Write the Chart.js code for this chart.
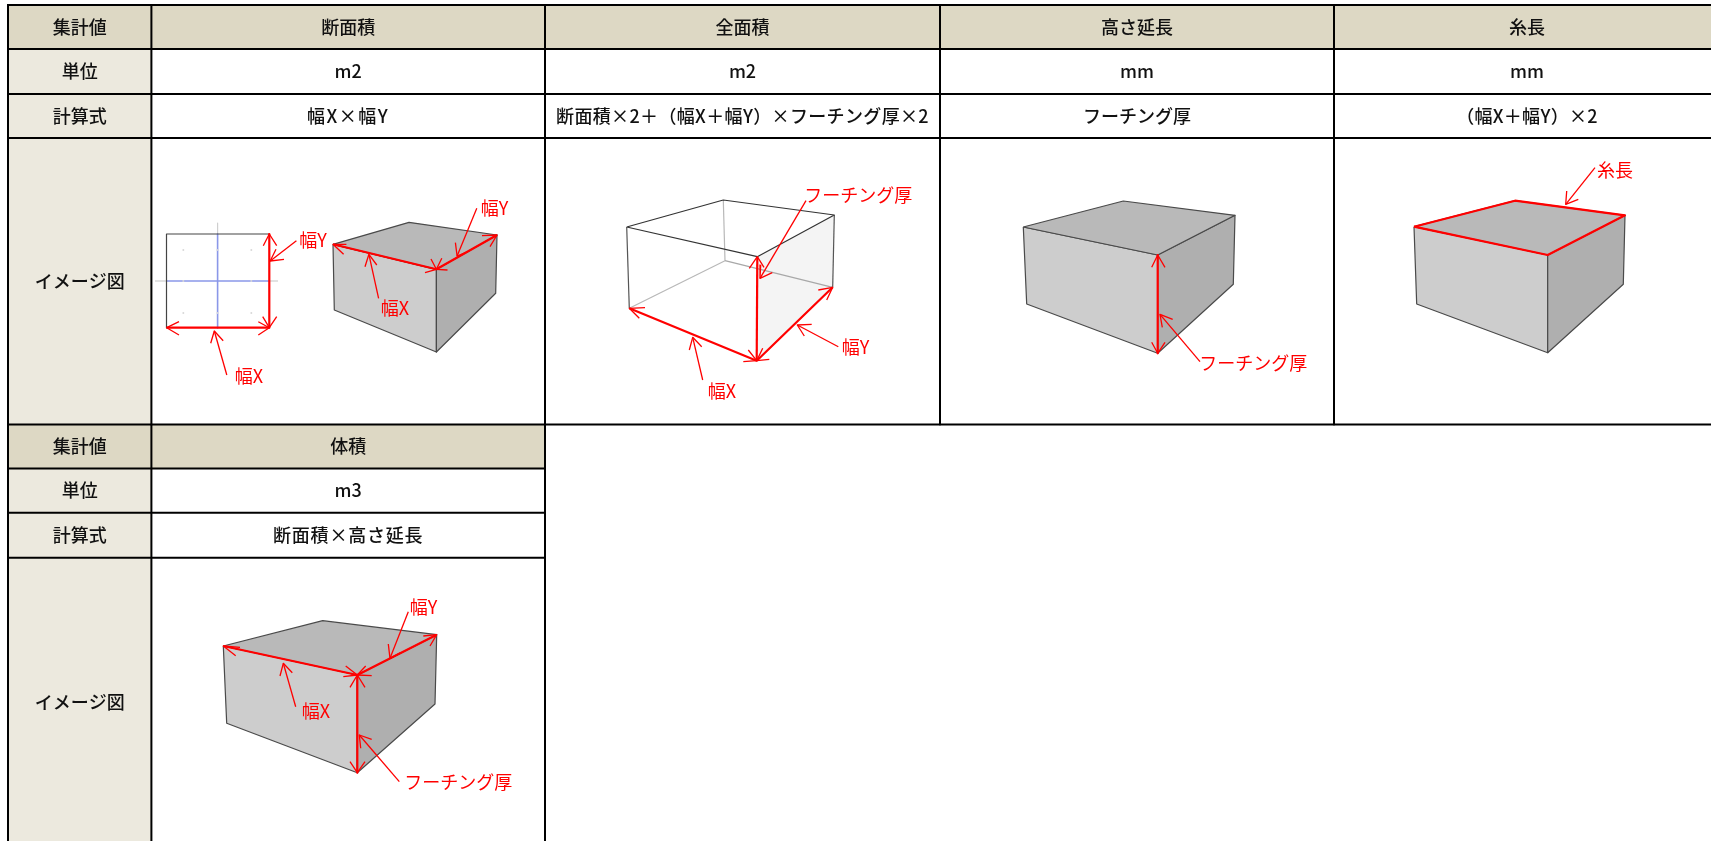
<!DOCTYPE html>
<html lang="ja"><head><meta charset="utf-8">
<style>html,body{margin:0;padding:0;background:#fff}canvas{display:block}</style>
<script src="https://cdn.jsdelivr.net/npm/chart.js@4"></script></head>
<body><canvas id="c" width="1711" height="841"></canvas>
<script>
// ---- table content
const rowLabels = ['集計値','単位','計算式','イメージ図'];
const topTitles = ['断面積','全面積','高さ延長','糸長'];
const topUnits = ['m2','m2','mm','mm'];
const topFormulas = ['幅X×幅Y','断面積×2＋（幅X＋幅Y）×フーチング厚×2','フーチング厚','（幅X＋幅Y）×2'];
const topFormulaSpacing = [1.5,0.35,0,0.3];
const lowerTitles = ['体積'];
const lowerUnits = ['m3'];
const lowerFormulas = ['断面積×高さ延長'];
const lowerFormulaSpacing = [0.8];
// ---- table grid, in axis units
const colLines = [8,151.4,545,940,1334,1720];
const topRowLines = [5,49,94,138,424.6];
const lowerRowLines = [424.6,468.4,512.8,557.8,846];
// ---- plan view (diagram 1)
const planOutline = [[269,234],[166.5,234],[166.5,328]];
const planBlue = [[[217.6,234],[217.6,328]],[[166.5,281],[269,281]]];
const planGray = [[[217.6,223],[217.6,234]],[[155,281],[166.5,281]],[[269,281],[278,281]]];
const planDots = [[183.3,250],[217.3,250],[251.3,250],[183.3,281],[251.3,281],[183.3,313],[217.3,313],[251.3,313]];
// ---- box corners: top-left, top-back, top-right, front-top, front-bottom, left-bottom, right-bottom
const box1 = [[333,244.3],[409,222.3],[497,235],[436.4,269.3],[436.4,352],[334.3,310],[495.7,293.3]];
const box3 = [[1023.3,227],[1123.3,201],[1235,215.3],[1157.7,255],[1157.7,353.3],[1026.7,304],[1233.3,284.3]];
const box4 = [[1414,226.7],[1515,200.7],[1625,215.3],[1547.7,255],[1547.7,352.7],[1416.7,304],[1623.3,284.3]];
const box5 = [[223.3,646],[322.7,620.7],[436.7,634.7],[357.3,675],[357.3,772.7],[226.7,723.3],[435,704]];
const wire = [[626.7,227],[723.3,200],[834.3,215],[757.3,256.7],[756.7,360.7],[629.3,308.3],[832.7,287.3]];
const wireInner = [725,260.7];
// ---- thick red edges
const redEdges = [
 [[269.3,234],[269.3,327.7]],[[166.7,327.7],[269.3,327.7]],
 [[333,244.3],[436.4,269.3],[497,235]],
 [[629.3,308.3],[756.7,360.7],[832.7,287.3]],[[757.3,256.7],[756.7,360.7]],
 [[1157.7,255],[1157.7,353.3]],
 [[1414,226.7],[1515,200.7],[1625,215.3],[1547.7,255],[1414,226.7]],
 [[223.3,646],[357.3,675],[436.7,634.7]],[[357.3,675],[357.3,772.7]]
];
// ---- thin red leaders and arrow heads
const redThin = [
 [[296.4,240.7],[270.2,261]],[[226.8,375],[214.3,331]],[[378.6,298.3],[368.9,254.3]],[[476.8,208.3],[457.1,256]],
 [[806,200.7],[760,278.3]],[[838.3,346.7],[797.3,325]],[[702.7,380],[692.7,337.3]],
 [[1200,361.7],[1160,314.3]],[[1595,167.7],[1565.7,204.3]],
 [[408.3,611.7],[390,658.3]],[[295.7,706.7],[283.3,663.3]],[[399.3,781.7],[359.3,735]]
];
const redHeads = [
 [[263.3,245.7],[269.3,234],[276.7,245.7]],[[262.7,316.7],[269.3,327.7],[276.7,316.7]],
 [[179,321.7],[166.7,327.7],[179,335]],[[258.3,321.7],[269.3,327.7],[258.3,335]],
 [[276,249.3],[270.2,261],[284,259.3]],[[210.7,343.3],[214.3,331],[223.2,340.7]],
 [[346.4,244.3],[333,244.3],[343.6,254.3]],[[425,272.7],[436.4,269.3],[431,259]],
 [[447.5,270],[436.4,269.3],[441.8,258.3]],[[482,235.7],[497,235],[490,246.7]],
 [[365,266.7],[368.9,254.3],[376.8,265]],[[455.4,242.7],[457.1,256],[467.9,251.7]],
 [[645,307.7],[629.3,308.3],[639.3,318.3]],[[743.3,361.7],[756.7,360.7],[748.3,350]],
 [[769.3,359.3],[756.7,360.7],[762.7,348.3]],[[749.3,268.3],[757.3,256.7],[764,267.3]],
 [[818.3,290],[832.7,287.3],[826.7,300]],[[760.7,265],[760,278.3],[772.3,272.7]],
 [[811.7,324.3],[797.3,325],[804.3,336]],[[689.3,350],[692.7,337.3],[701.7,346.7]],
 [[1151.7,267.3],[1157.7,255],[1165,267.3]],[[1151.7,342.3],[1157.7,353.3],[1165,342.3]],
 [[1162.3,327.3],[1160,314.3],[1172.7,319.3]],[[1566.7,191],[1565.7,204.3],[1578.3,199.3]],
 [[240,647.3],[223.3,646],[235.7,655.7]],[[343.3,676.7],[357.3,675],[345.7,666]],
 [[371.7,675.7],[357.3,675],[365.7,666]],[[350,687.3],[357.3,675],[365,687.3]],
 [[423.3,636],[436.7,634.7],[430,646]],[[350,761.7],[357.3,772.7],[365,761.7]],
 [[388.3,644],[390,658.3],[400.7,652.7]],[[280,676],[283.3,663.3],[292.3,672.7]],
 [[360.7,748.3],[359.3,735],[371.7,739.3]]
];
// ---- red annotation labels: text, centre x, centre y
const redLabels = [
 ['幅Y',313,240],['幅X',249,376.5],['幅X',395,308],['幅Y',494.5,208.5],
 ['フーチング厚',858.3,195.5],['幅Y',855.5,347.5],['幅X',722,391.5],
 ['フーチング厚',1253.3,363],['糸長',1615,170.5],
 ['幅Y',423.5,607],['幅X',316,711],['フーチング厚',458.3,782.5]
];

const HEAD='#DDD8C4', SIDE='#ECE9DE', RED='#FF0000', BLACK='#000000', EDGE='#4a4a4a';
const ds=[];
const xy=p=>p.map(q=>({x:q[0],y:q[1]}));
function line(pts,color,width){ds.push({data:xy(pts),borderColor:color,borderWidth:width,showLine:true,pointRadius:0,fill:false,tension:0,borderJoinStyle:'round'});}
function face(pts,fillCol,color,width){ds.push({data:xy(pts.concat([pts[0]])),backgroundColor:fillCol,borderColor:color,borderWidth:width,showLine:true,pointRadius:0,fill:'shape',tension:0,borderJoinStyle:'round'});}
function rect(x0,x1,y0,y1,c){face([[x0,y0],[x1,y0],[x1,y1],[x0,y1]],c,c,0);}

// cell fills
rect(colLines[0],colLines[1],topRowLines[0],topRowLines[1],HEAD);
rect(colLines[1],colLines[5],topRowLines[0],topRowLines[1],HEAD);
rect(colLines[0],colLines[1],topRowLines[1],topRowLines[4],SIDE);
rect(colLines[0],colLines[2],lowerRowLines[0],lowerRowLines[1],HEAD);
rect(colLines[0],colLines[1],lowerRowLines[1],lowerRowLines[4],SIDE);
// grid
topRowLines.forEach(y=>line([[colLines[0]-1,y],[colLines[5],y]],BLACK,2));
lowerRowLines.slice(1,4).forEach(y=>line([[colLines[0]-1,y],[colLines[2]+1,y]],BLACK,2));
colLines.slice(0,5).forEach(x=>line([[x,topRowLines[0]],[x,topRowLines[4]]],BLACK,2));
colLines.slice(0,3).forEach(x=>line([[x,lowerRowLines[0]],[x,lowerRowLines[4]]],BLACK,2));
// plan
planGray.forEach(p=>line(p,'#cfcfcf',1.2));
planBlue.forEach(p=>line(p,'#8a97e8',1.6));
line(planOutline,'#444444',1.2);
ds.push({data:xy(planDots),pointRadius:1,pointBackgroundColor:'#d8d8d8',pointBorderWidth:0,showLine:false});
// solid boxes
[box1,box3,box4,box5].forEach(b=>{
  const [A,B,C,D,E,F,G]=b;
  face([A,D,E,F],'#CDCDCD',EDGE,1.2);
  face([D,C,G,E],'#AFAFAF',EDGE,1.2);
  face([A,B,C,D],'#B9B9B9',EDGE,1.2);
});
// wire box
(function(){
  const [A,B,C,D,E,F,G]=wire, H=wireInner;
  face([D,C,G,E],'#F4F4F4','#F4F4F4',0);
  line([B,H],'#b8b8b8',1.2); line([H,F],'#b8b8b8',1.2); line([H,G],'#a8a8a8',1.2);
  line([A,F],'#555555',1.2); line([C,G],'#555555',1.2);
  line([A,B,C,D,A],'#333333',1.2);
})();
// red
redEdges.forEach(p=>line(p,RED,2.2));
redThin.forEach(p=>line(p,RED,1.3));
redHeads.forEach(p=>line(p,RED,1.3));
ds.forEach((d,i)=>d.order=-i);

const FONT='"Noto Sans CJK JP","Noto Sans",sans-serif';
const textPlugin={id:'cellText',afterDatasetsDraw(chart){
  const c=chart.ctx,X=chart.scales.x,Y=chart.scales.y;
  c.save();c.textAlign='center';c.textBaseline='middle';
  const put=(t,x,y,col,spacing)=>{c.fillStyle=col;c.letterSpacing=(spacing||0)+'px';c.fillText(t,X.getPixelForValue(x),Y.getPixelForValue(y));};
  c.font='500 18px '+FONT;
  const mid=(a,i)=>(a[i]+a[i+1])/2, INK='#111111';
  rowLabels.forEach((t,i)=>{put(t,mid(colLines,0),mid(topRowLines,i),INK);put(t,mid(colLines,0),mid(lowerRowLines,i),INK);});
  topTitles.forEach((t,i)=>put(t,mid(colLines,i+1),mid(topRowLines,0),INK));
  topUnits.forEach((t,i)=>put(t,mid(colLines,i+1),mid(topRowLines,1),INK));
  topFormulas.forEach((t,i)=>put(t,mid(colLines,i+1),mid(topRowLines,2),INK,topFormulaSpacing[i]));
  lowerTitles.forEach((t,i)=>put(t,mid(colLines,i+1),mid(lowerRowLines,0),INK));
  lowerUnits.forEach((t,i)=>put(t,mid(colLines,i+1),mid(lowerRowLines,1),INK));
  lowerFormulas.forEach((t,i)=>put(t,mid(colLines,i+1),mid(lowerRowLines,2),INK,lowerFormulaSpacing[i]));
  c.font='400 18px '+FONT;
  redLabels.forEach(l=>put(l[0],l[1],l[2],RED));
  c.restore();
}};
new Chart(document.getElementById('c'),{type:'scatter',data:{datasets:ds},plugins:[textPlugin],options:{
  responsive:false,animation:false,events:[],layout:{padding:0,autoPadding:false},
  plugins:{legend:{display:false},tooltip:{enabled:false},title:{display:false}},
  scales:{x:{type:'linear',min:0,max:1711,display:false},y:{type:'linear',min:0,max:841,reverse:true,display:false}}
}});
</script></body></html>
